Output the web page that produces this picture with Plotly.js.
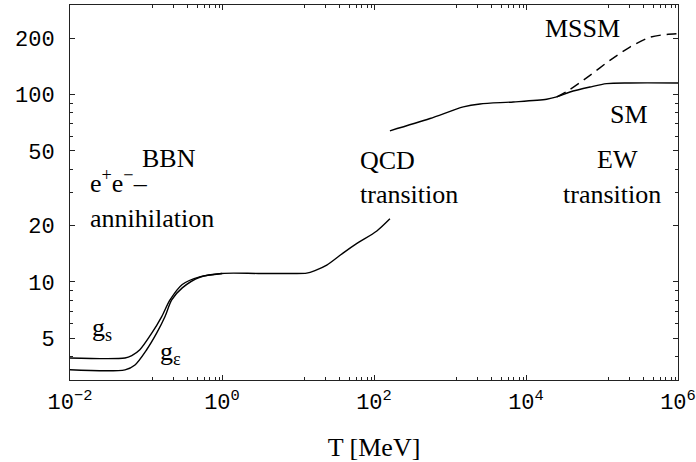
<!DOCTYPE html>
<html>
<head>
<meta charset="utf-8">
<script src="https://cdn.plot.ly/plotly-3.0.1.min.js"></script>
<style>html,body{margin:0;padding:0;background:#fff}#chart{width:696px;height:462px}</style>
</head>
<body>
<div id="chart"></div>
<script>
// ---- data (T in MeV) ----
const T_gs  = [0.01, 0.053, 0.065, 0.083, 0.119, 0.161, 0.207, 0.30, 0.51, 1.0];
const g_s   = [3.93, 3.93, 4.05, 4.35, 5.33, 6.54, 8.02, 9.7, 10.65, 11.1];

const T_ge  = [0.01, 0.053, 0.0716, 0.102, 0.138, 0.178, 0.218, 0.30, 0.51, 1.0, 3.0, 8.0, 13, 16.7, 23.9, 39.5, 59, 109, 162];
const g_e   = [3.40, 3.40, 3.61, 4.35, 5.33, 6.54, 8.02, 9.3, 10.6, 11.1, 11.1, 11.1, 11.15, 11.5, 12.3, 14.3, 16.0, 18.7, 21.7];

const T_sm  = [162, 546, 1496, 2483, 6808, 18700, 25350, 37900, 69500, 115000, 233000, 1000000];
const g_sm  = [64, 74.4, 85.8, 89.0, 91.2, 94.3, 97.0, 103.1, 109.6, 114.3, 115.2, 115.2];

const T_mssm = [25350, 37900, 69500, 127000, 233000, 428000, 710000, 1000000];
const g_mssm = [97.0, 106.3, 126.5, 152, 179, 202, 209, 211];

// ---- axis ticks ----
const xTickVals  = [0.01, 1, 100, 10000, 1000000];
const xTickText  = ['10<sup>\u22122</sup>', '10<sup>0</sup>', '10<sup>2</sup>', '10<sup>4</sup>', '10<sup>6</sup>'];
const xMinorMult = [12, 23, 35, 47, 58, 69, 81, 92];
const xMinorBase = [0.01, 1, 100, 10000];
const yTickVals  = [5, 10, 20, 50, 100, 200];
const yTickText  = ['5', '10', '20', '50', '100', '200'];
const yMinorVals = [4, 6, 7, 8, 9, 30, 40, 60, 70, 80, 90];

const xMinorVals = [];
xMinorBase.forEach(b => xMinorMult.forEach(m => xMinorVals.push(b * m)));

const ink = '#000';
const frame = '#222';
const serif = 'Liberation Serif, Times New Roman, serif';
const mono = 'Liberation Mono, Courier New, monospace';

const lineStyle = {color: ink, width: 1.4, shape: 'spline', smoothing: 0.8};

const traces = [
  {x: T_gs, y: g_s, mode: 'lines', line: lineStyle, hoverinfo: 'skip'},
  {x: T_ge, y: g_e, mode: 'lines', line: lineStyle, hoverinfo: 'skip'},
  {x: T_sm, y: g_sm, mode: 'lines', line: lineStyle, hoverinfo: 'skip'},
  {x: T_mssm, y: g_mssm, mode: 'lines', line: {color: ink, width: 1.4, dash: '10px,6px', shape: 'spline', smoothing: 0.8}, hoverinfo: 'skip'}
];

function ann(text, x, y, xanchor, yanchor) {
  return {text: text, x: x, y: y, xref: 'paper', yref: 'paper', xanchor: xanchor, yanchor: yanchor,
          showarrow: false, align: 'left', font: {family: serif, size: 26, color: ink}};
}

const layout = {
  width: 696, height: 462,
  margin: {l: 70, r: 18, t: 5, b: 82},
  paper_bgcolor: '#fff', plot_bgcolor: '#fff',
  showlegend: false,
  xaxis: {
    type: 'log', range: [-2, 6],
    showline: true, linecolor: frame, linewidth: 1, mirror: 'ticks',
    ticks: 'inside', ticklen: 5, tickcolor: frame, tickwidth: 1,
    tickmode: 'array', tickvals: xTickVals, ticktext: xTickText,
    tickfont: {family: mono, size: 22, color: ink},
    ticklabelstandoff: 2,
    minor: {tickmode: 'array', tickvals: xMinorVals, ticks: 'inside', ticklen: 3, tickcolor: frame, showgrid: false},
    showgrid: false, zeroline: false,
    title: {text: 'T [MeV]', font: {family: serif, size: 26, color: ink}, standoff: 22}
  },
  yaxis: {
    type: 'log', range: [Math.log10(3), Math.log10(300)],
    showline: true, linecolor: frame, linewidth: 1, mirror: 'ticks',
    ticks: 'inside', ticklen: 5, tickcolor: frame, tickwidth: 1,
    tickmode: 'array', tickvals: yTickVals, ticktext: yTickText,
    tickfont: {family: mono, size: 22, color: ink},
    ticklabelstandoff: 10,
    minor: {tickmode: 'array', tickvals: yMinorVals, ticks: 'inside', ticklen: 3, tickcolor: frame, showgrid: false},
    showgrid: false, zeroline: false
  },
  annotations: [
    ann('BBN', 0.163, 0.547, 'center', 'bottom'),
    ann('e<sup>+</sup>e<sup>\u2212</sup>\u2013', 0.0296, 0.4806, 'left', 'bottom'),
    ann('annihilation', 0.0296, 0.3873, 'left', 'bottom'),
    ann('QCD', 0.4737, 0.5418, 'left', 'bottom'),
    ann('transition', 0.4737, 0.4512, 'left', 'bottom'),
    ann('MSSM', 0.778, 0.8934, 'left', 'bottom'),
    ann('SM', 0.885, 0.6643, 'left', 'bottom'),
    ann('EW', 0.8635, 0.5445, 'left', 'bottom'),
    ann('transition', 0.8076, 0.4512, 'left', 'bottom'),
    ann('g<sub>s</sub>', 0.033, 0.0887, 'left', 'bottom'),
    ann('g<sub>\u03b5</sub>', 0.1447, 0.0248, 'left', 'bottom')
  ]
};

Plotly.newPlot('chart', traces, layout, {staticPlot: true, displayModeBar: false});
</script>
</body>
</html>
